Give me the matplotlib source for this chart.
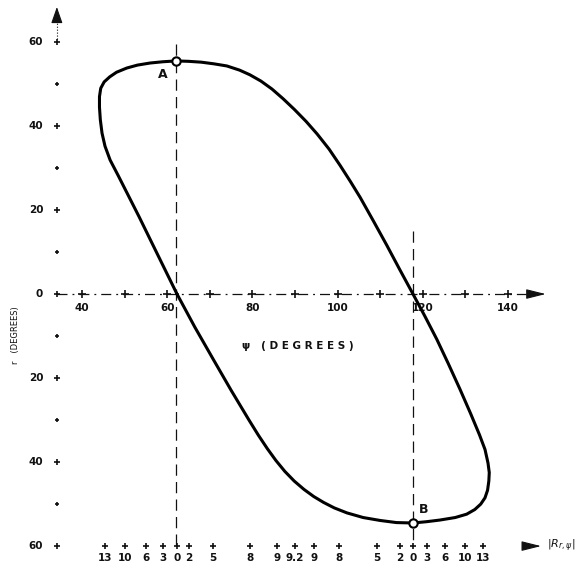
import matplotlib
matplotlib.use("Agg")
import matplotlib.pyplot as plt

# ---- data ----
# closed loop: psi (deg) vs r (deg), clockwise starting at the zero crossing on the left
loop_psi = [62.3, 59.2, 56.2, 53.4, 50.6, 48.5, 46.6, 45.4, 44.7, 44.3, 44.1, 44.1,
            44.4, 45.2, 46.5, 48.1, 50.5, 53.0, 56.0, 59.0, 62.1,
            65.0, 68.0, 71.0, 74.0, 77.0, 79.4, 82.0, 84.6, 87.2, 89.9, 92.6, 95.2,
            98.0, 100.6, 103.0, 105.3, 108.4, 111.5, 114.6, 117.7,
            120.5, 123.3, 126.0, 128.7, 131.2, 133.3, 134.6, 135.3, 135.6, 135.5,
            135.2, 134.6, 133.6, 132.2, 130.3, 127.6, 124.0, 120.8, 117.7,
            113.8, 110.0, 106.0, 102.2, 99.2, 96.7, 94.4, 92.1, 89.8, 87.6, 85.5,
            83.5, 81.4, 79.2, 75.0, 70.9, 66.5, 62.3]
loop_r = [0.0, 6.4, 12.6, 18.4, 24.0, 28.2, 31.9, 35.2, 38.3, 41.5, 44.5, 47.0,
          49.0, 50.5, 51.7, 52.8, 53.8, 54.5, 55.0, 55.3, 55.5,
          55.4, 55.2, 54.8, 54.3, 53.3, 52.2, 50.7, 48.8, 46.5, 43.9, 41.1, 38.1,
          34.5, 30.6, 26.8, 23.0, 17.4, 11.7, 5.8, 0.0,
          -5.3, -10.8, -16.6, -22.6, -28.4, -33.5, -37.0, -40.2, -42.5, -44.5,
          -46.7, -48.5, -50.0, -51.3, -52.4, -53.2, -53.8, -54.2, -54.5,
          -54.4, -53.9, -53.2, -52.1, -50.9, -49.6, -48.2, -46.5, -44.5, -42.2, -39.6,
          -36.8, -33.6, -30.0, -22.9, -15.7, -7.9, 0.0]

point_labels = ["A", "B"]
point_psi = [62.1, 117.7]
point_r = [55.5, -54.5]

y_major = [60, 40, 20, 0, -20, -40, -60]
y_major_labels = ["60", "40", "20", "0", "20", "40", "60"]
y_minor = [50, 30, 10, -10, -30, -50]

x_ticks = [40, 50, 60, 70, 80, 90, 100, 110, 120, 130, 140]
x_labels = ["40", "", "60", "", "80", "", "100", "", "120", "", "140"]

rmag_psi = [45.4, 50.1, 55.0, 59.0, 62.3, 65.1, 70.8, 79.4, 85.8, 90.0,
            94.5, 100.3, 109.2, 114.6, 117.7, 121.0, 125.2, 129.9, 134.1]
rmag_labels = ["13", "10", "6", "3", "0", "2", "5", "8", "9", "9.2",
               "9", "8", "5", "2", "0", "3", "6", "10", "13"]

# ---- figure ----
fig = plt.figure(figsize=(5.76, 5.65), dpi=100)
ax = fig.add_axes([0, 0, 1, 1])
ax.set_xlim(20.75, 155.96)
ax.set_ylim(-64.5, 70.0)
ax.axis("off")

yaxis_x = 34.1
bottom_r = -60
fs = 7.5
tc = "#111111"

# vertical axis: dotted stub + arrow
ax.plot([yaxis_x, yaxis_x], [60, 64.5], color=tc, lw=0.8, ls=":")
ax.annotate("", xy=(yaxis_x, 69), xytext=(yaxis_x, 64),
            arrowprops=dict(arrowstyle="-|>,head_width=0.35,head_length=1.0", color=tc, lw=0.8))
ax.plot([yaxis_x] * len(y_major), y_major, ls="none", marker="+", ms=5, mew=1.2, color=tc)
ax.plot([yaxis_x] * len(y_minor), y_minor, ls="none", marker="+", ms=3, mew=1.2, color=tc)
for v, lab in zip(y_major, y_major_labels):
    ax.text(yaxis_x - 3.2, v, lab, ha="right", va="center", fontsize=fs,
            fontweight="bold", color=tc)

# horizontal axis at r = 0: dash-dot line with + ticks and arrow
ax.plot([yaxis_x, 145.5], [0, 0], color=tc, lw=0.9, ls=(0, (8, 4, 1.5, 4)))
ax.annotate("", xy=(149.5, 0), xytext=(144.5, 0),
            arrowprops=dict(arrowstyle="-|>,head_width=0.3,head_length=1.2", color=tc, lw=0.8))
ax.plot(x_ticks, [0] * len(x_ticks), ls="none", marker="+", ms=6, mew=1.2, color=tc)
for v, lab in zip(x_ticks, x_labels):
    if lab:
        ax.text(v, -3.3, lab, ha="center", va="center", fontsize=fs, fontweight="bold", color=tc)

# bottom |R| scale
ax.plot(rmag_psi, [bottom_r] * len(rmag_psi), ls="none", marker="+", ms=5, mew=1.2, color=tc)
for v, lab in zip(rmag_psi, rmag_labels):
    ax.text(v, bottom_r - 2.8, lab, ha="center", va="center", fontsize=fs, fontweight="bold", color=tc)
ax.annotate("", xy=(148.4, bottom_r), xytext=(143.3, bottom_r),
            arrowprops=dict(arrowstyle="-|>,head_width=0.3,head_length=1.2", color=tc, lw=0.8))
ax.text(149.2, bottom_r, r"$|R_{r,\psi}|$", ha="left", va="center", fontsize=8, color=tc)

# dashed reference lines through A and B
ax.plot([point_psi[0]] * 2, [59.5, bottom_r], color=tc, lw=0.9, ls=(0, (9, 5)))
ax.plot([point_psi[1]] * 2, [15.0, bottom_r], color=tc, lw=0.9, ls=(0, (9, 5)))

# loop
ax.plot(loop_psi, loop_r, color="black", lw=2.2, solid_joinstyle="round",
        solid_capstyle="round", zorder=3)

# A and B markers
ax.plot(point_psi, point_r, ls="none", marker="o", ms=6, mfc="white", mec="black", mew=1.5, zorder=4)
ax.text(point_psi[0] - 3.2, point_r[0] - 3.3, point_labels[0], ha="center", va="center",
        fontsize=9, fontweight="bold", color=tc)
ax.text(point_psi[1] + 2.6, point_r[1] + 3.2, point_labels[1], ha="center", va="center",
        fontsize=9, fontweight="bold", color=tc)

# axis titles
ax.text(77.6, -12.4, "ψ   ( D E G R E E S )", ha="left", va="center", fontsize=7.5,
        fontweight="bold", color=tc)
ax.text(24.3, -9.8, "r   (DEGREES)", ha="center", va="center", rotation=90, fontsize=6, color=tc)

fig.savefig("out.png", dpi=100)
